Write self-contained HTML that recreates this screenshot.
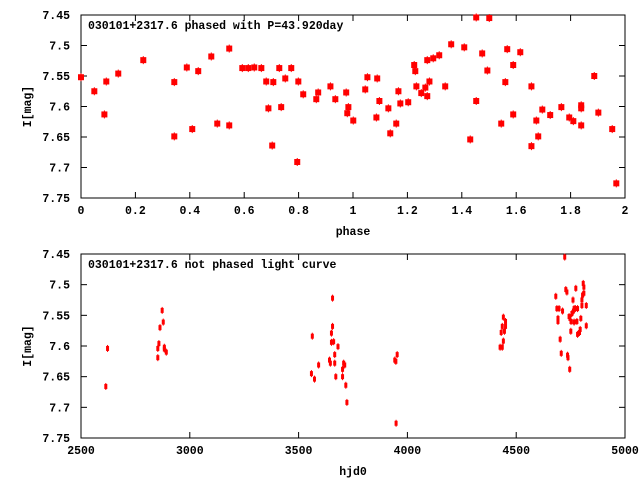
<!DOCTYPE html>
<html><head><meta charset="utf-8"><style>
html,body{margin:0;padding:0;background:#fff}
svg{display:block}
text{font-family:"Liberation Mono",monospace;font-size:11.5px;font-weight:bold;fill:#000}
</style></head><body>
<svg id="c" width="640" height="480" xmlns="http://www.w3.org/2000/svg"></svg>
<script>
const phaseVals=[0.000,0.049,0.086,0.093,0.137,0.229,0.343,0.343,0.389,0.409,0.431,0.479,0.501,0.545,0.545,0.593,0.615,0.637,0.663,0.681,0.689,0.707,0.703,0.729,0.736,0.751,0.773,0.795,0.799,0.817,0.865,0.872,0.917,0.935,0.975,0.983,0.979,1.001,1.045,1.053,1.089,1.097,1.086,1.130,1.137,1.159,1.167,1.174,1.203,1.225,1.229,1.233,1.251,1.266,1.273,1.273,1.281,1.295,1.317,1.339,1.361,1.409,1.431,1.453,1.453,1.475,1.494,1.501,1.545,1.560,1.567,1.589,1.589,1.615,1.656,1.656,1.674,1.681,1.696,1.725,1.766,1.795,1.810,1.839,1.839,1.839,1.887,1.902,1.953,1.968];
const phaseMags=[7.552,7.575,7.613,7.559,7.546,7.524,7.560,7.649,7.536,7.637,7.542,7.518,7.628,7.505,7.631,7.537,7.537,7.536,7.537,7.559,7.603,7.560,7.664,7.537,7.601,7.554,7.537,7.691,7.559,7.580,7.588,7.577,7.567,7.588,7.577,7.601,7.611,7.623,7.572,7.552,7.554,7.591,7.618,7.603,7.644,7.628,7.575,7.595,7.593,7.532,7.542,7.567,7.578,7.569,7.524,7.583,7.559,7.521,7.516,7.567,7.498,7.503,7.654,7.454,7.591,7.513,7.541,7.455,7.628,7.560,7.506,7.532,7.613,7.511,7.567,7.665,7.623,7.649,7.605,7.614,7.601,7.618,7.624,7.598,7.603,7.631,7.550,7.610,7.637,7.726];
const hjdVals=[2614,2622,2853,2853,2858,2863,2873,2878,2883,2883,2892,3559,3563,3573,3592,3642,3646,3651,3651,3656,3656,3661,3666,3666,3671,3681,3702,3702,3707,3712,3717,3722,3942,3947,3953,3948,4426,4431,4436,4436,4441,4441,4446,4451,4451,4682,4687,4692,4692,4697,4702,4707,4713,4723,4728,4733,4736,4738,4743,4746,4747,4751,4752,4756,4761,4763,4766,4766,4772,4774,4779,4782,4782,4791,4794,4797,4802,4802,4805,4808,4811,4811,4822,4822];
const hjdMags=[7.666,7.604,7.619,7.604,7.596,7.570,7.542,7.561,7.602,7.605,7.610,7.645,7.584,7.654,7.631,7.623,7.628,7.579,7.594,7.568,7.522,7.593,7.614,7.628,7.650,7.601,7.650,7.638,7.628,7.631,7.664,7.692,7.623,7.625,7.614,7.726,7.602,7.578,7.568,7.602,7.553,7.592,7.576,7.568,7.560,7.519,7.539,7.555,7.560,7.539,7.589,7.612,7.543,7.455,7.508,7.512,7.615,7.619,7.552,7.638,7.555,7.576,7.560,7.547,7.525,7.543,7.539,7.561,7.539,7.506,7.560,7.539,7.581,7.578,7.573,7.555,7.525,7.534,7.517,7.498,7.514,7.504,7.534,7.567];
const phaseTicks=["0","0.2","0.4","0.6","0.8","1","1.2","1.4","1.6","1.8","2"];
const hjdTicks=["2500","3000","3500","4000","4500","5000"];
const magTicks=["7.45","7.5","7.55","7.6","7.65","7.7","7.75"];

const svg=document.getElementById('c');
const NS='http://www.w3.org/2000/svg';
function mk(t,a,p){const e=document.createElementNS(NS,t);for(const k in a)e.setAttribute(k,a[k]);(p||svg).appendChild(e);return e;}

function panel(opt){
  const g=mk('g',{});
  
  
  const L=81,R=625,T=opt.top,B=opt.bottom;
  const sx=v=>L+(v-opt.x0)/(opt.x1-opt.x0)*(R-L);
  const sy=v=>T+(v-7.45)/(0.3)*(B-T);
  const fr=mk('rect',{x:L,y:T,width:R-L,height:B-T,fill:'none',stroke:'#000','stroke-width':1},g);
  
  
  opt.xt.forEach(s=>{const v=parseFloat(s),x=sx(v);
    mk('line',{x1:x,y1:B,x2:x,y2:B-6,stroke:'#000'},g);
    mk('line',{x1:x,y1:T,x2:x,y2:T+6,stroke:'#000'},g);
    const t=mk('text',{x:x,y:B+16,'text-anchor':'middle'},g);t.textContent=s;
    
    
  });
  magTicks.forEach(s=>{const v=parseFloat(s),y=sy(v);
    mk('line',{x1:L,y1:y,x2:L+6,y2:y,stroke:'#000'},g);
    mk('line',{x1:R,y1:y,x2:R-6,y2:y,stroke:'#000'},g);
    const t=mk('text',{x:70,y:y+4,'text-anchor':'end'},g);t.textContent=s;
    
    
  });
  const tt=mk('text',{x:88,y:T+14},g);tt.textContent=opt.title;
  
  
  const xl=mk('text',{x:(L+R)/2,y:B+37,'text-anchor':'middle'},g);xl.textContent=opt.xlabel;
  
  
  const cy=(T+B)/2;
  const yl=mk('text',{x:31,y:cy,'text-anchor':'middle',transform:'rotate(-90 31 '+cy+')'},g);yl.textContent='I[mag]';
  
  
  opt.xs.forEach((v,i)=>{
    const x=sx(v),y=sy(opt.ys[i]);
    const m=mk('g',{},g);
    
    
    if(opt.big){
      mk('line',{x1:x,y1:y-4,x2:x,y2:y+4,stroke:'#f00','stroke-width':1},m);
      mk('rect',{x:x-3,y:y-3,width:6,height:6,fill:'#f00'},m);
    }else{
      mk('line',{x1:x,y1:y-3.5,x2:x,y2:y+3.5,stroke:'#f00','stroke-width':1},m);
      mk('rect',{x:x-1.5,y:y-2.5,width:3,height:5,fill:'#f00'},m);
    }
  });
}
panel({name:'phased-light-curve-panel',top:15,bottom:198,x0:0,x1:2,xt:phaseTicks,xs:phaseVals,ys:phaseMags,big:true,
  title:'030101+2317.6 phased with P=43.920day',xlabel:'phase'});
panel({name:'unphased-light-curve-panel',top:254,bottom:438,x0:2500,x1:5000,xt:hjdTicks,xs:hjdVals,ys:hjdMags,big:false,
  title:'030101+2317.6 not phased light curve',xlabel:'hjd0'});
</script>
</body></html>
